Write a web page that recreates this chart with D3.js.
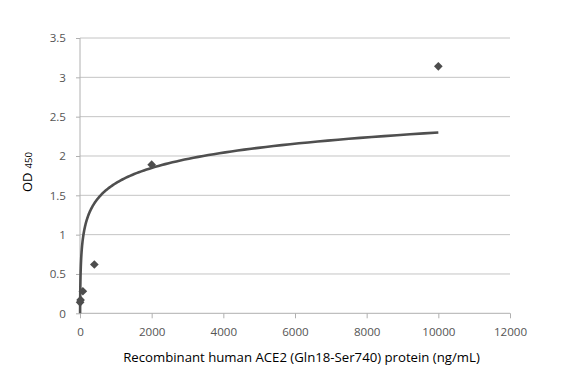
<!DOCTYPE html>
<html>
<head>
<meta charset="utf-8">
<script src="https://cdn.jsdelivr.net/npm/d3@7"></script>
<style>
  html, body { margin: 0; padding: 0; background: #fff; }
  svg { display: block; }
  text { font-family: "Open Sans", "DejaVu Sans", sans-serif; }
</style>
</head>
<body>
<svg id="chart" width="582" height="382"></svg>
<script>
// ---- data ----
const concentrations = [3.2, 16, 80, 400, 2000, 10000];
const odValues = [0.14, 0.17, 0.28, 0.62, 1.89, 3.14];
const xTicks = [0, 2000, 4000, 6000, 8000, 10000, 12000];
const yTicks = [0, 0.5, 1, 1.5, 2, 2.5, 3, 3.5];
// logarithmic trendline y = trendA * ln(x) + trendB
const trendA = 0.28;
const trendB = -0.28;
const xTitle = "Recombinant human ACE2 (Gln18-Ser740) protein (ng/mL)";

(function () {
const svg = d3.select("#chart");
const mLeft = 80, mRight = 510, mTop = 38, mBottom = 313.3;

const x = d3.scaleLinear().domain([0, 12000]).range([mLeft, mRight]);
const y = d3.scaleLinear().domain([0, 3.5]).range([mBottom, mTop]);

// gridlines
svg.append("g")
  .selectAll("line")
  .data(yTicks.filter(d => d > 0))
  .join("line")
  .attr("x1", mLeft).attr("x2", mRight)
  .attr("y1", d => y(d)).attr("y2", d => y(d))
  .attr("stroke", "#c4c4c4").attr("stroke-width", 1);

// x axis
const xAxis = svg.append("g")
  .attr("transform", `translate(0,${mBottom})`)
  .call(d3.axisBottom(x).tickValues(xTicks).tickSize(5).tickPadding(9).tickFormat(d3.format("d")));
xAxis.select(".domain").attr("stroke", "#b0b0b0").attr("d", `M${mLeft},0H${mRight}`);
xAxis.selectAll(".tick line").attr("stroke", "#b0b0b0");
xAxis.selectAll("text").attr("fill", "#555").style("font-size", "11.6px");

// y axis
const yAxis = svg.append("g")
  .attr("transform", `translate(${mLeft},0)`)
  .call(d3.axisLeft(y).tickValues(yTicks).tickSize(4).tickPadding(10).tickFormat(d => String(d)));
yAxis.select(".domain").attr("stroke", "#b0b0b0").attr("d", `M0,${mTop}V${mBottom}`);
yAxis.selectAll(".tick line").attr("stroke", "#b0b0b0");
yAxis.selectAll("text").attr("fill", "#555").style("font-size", "11.6px");

// trendline
const x0 = Math.exp(-trendB / trendA);
const logStart = Math.log(x0), logEnd = Math.log(d3.max(concentrations));
const trendPts = d3.range(0, 201).map(i => {
  const xv = Math.exp(logStart + (logEnd - logStart) * i / 200);
  return [xv, trendA * Math.log(xv) + trendB];
});
svg.append("path")
  .datum(trendPts)
  .attr("fill", "none")
  .attr("stroke", "#4f4f4f")
  .attr("stroke-width", 2.6)
  .attr("d", d3.line().x(d => x(d[0])).y(d => y(d[1])));

// diamonds
svg.append("g")
  .selectAll("path")
  .data(concentrations.map((c, i) => [c, odValues[i]]))
  .join("path")
  .attr("transform", d => `translate(${x(d[0])},${y(d[1])})`)
  .attr("d", d3.symbol(d3.symbolDiamond2, 48))
  .attr("fill", "#4d4d4d");

// axis titles
svg.append("text")
  .attr("x", 301.5).attr("y", 362)
  .attr("text-anchor", "middle")
  .attr("fill", "#000")
  .style("font-size", "13.2px")
  .text(xTitle);

const yt = svg.append("text")
  .attr("transform", "translate(32,192) rotate(-90)")
  .attr("text-anchor", "start")
  .attr("fill", "#000")
  .style("font-size", "13px");
yt.append("tspan").text("OD");
yt.append("tspan").attr("dx", 4).style("font-size", "9.5px").text("450");
})();
</script>
</body>
</html>
